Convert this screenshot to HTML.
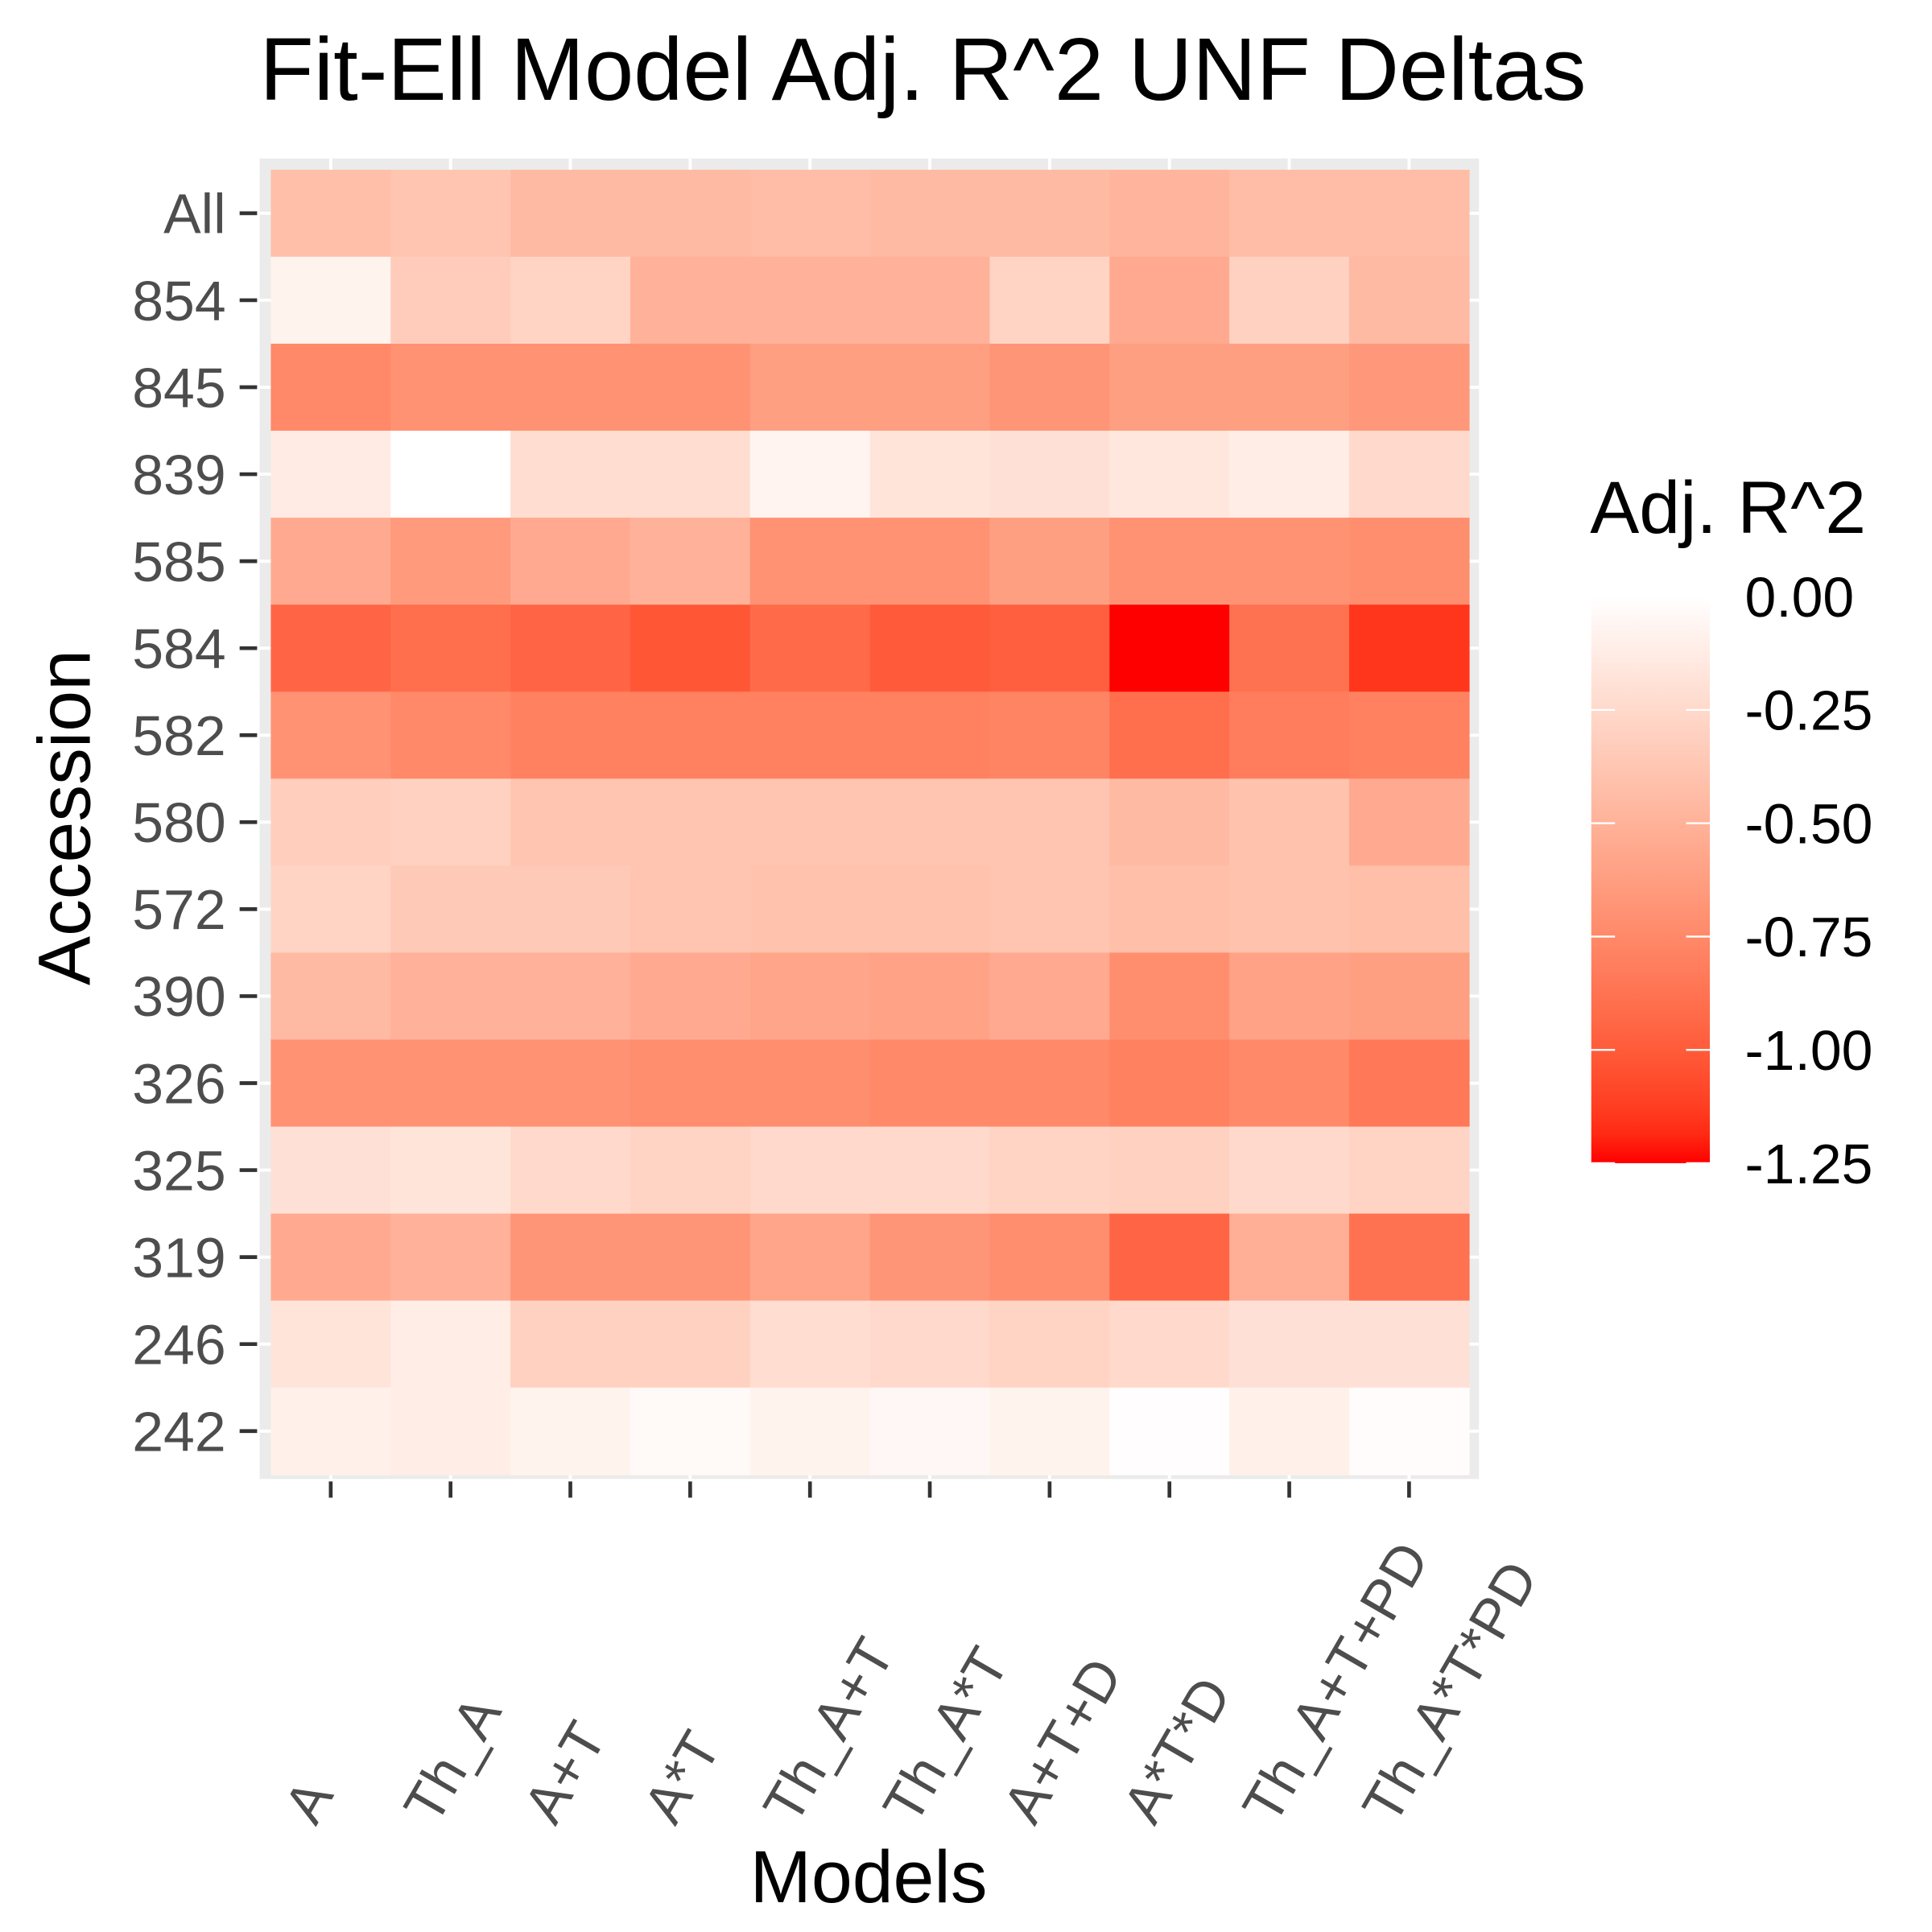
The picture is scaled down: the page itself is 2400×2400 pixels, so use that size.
<!DOCTYPE html>
<html><head><meta charset="utf-8"><style>
html,body{margin:0;padding:0;background:#fff}
svg{display:block}
text{font-family:"Liberation Sans",Arial,sans-serif}
</style></head><body>
<svg id="chart" width="2400" height="2400" viewBox="0 0 1548 1548" xmlns="http://www.w3.org/2000/svg">
<defs>
<linearGradient id="lg" x1="0" y1="0" x2="0" y2="1">
</linearGradient>
</defs>
<text x="208" y="80" font-size="71" fill="#000">Fit-Ell Model Adj. R^2 UNF Deltas</text>
<rect x="208" y="127" width="977" height="1058" fill="#EBEBEB"/>
<g id="grid"></g>
<g id="tiles"></g>
<g id="yaxis"></g>
<g id="xaxis"></g>
<text transform="translate(72,655) rotate(-90)" text-anchor="middle" font-size="59" fill="#000">Accession</text>
<text x="696" y="1524" text-anchor="middle" font-size="59" fill="#000">Models</text>
<g id="legend">
<text x="1274" y="427" font-size="59" fill="#000">Adj. R^2</text>
</g>
</svg>
<script>
const models = ["A","Th_A","A+T","A*T","Th_A+T","Th_A*T","A+T+D","A*T*D","Th_A+T+PD","Th_A*T*PD"];
const accessions = ["All","854","845","839","585","584","582","580","572","390","326","325","319","246","242"];
const rowAll = [-0.42,-0.38,-0.45,-0.45,-0.43,-0.45,-0.45,-0.48,-0.43,-0.43];
const row854 = [-0.08,-0.33,-0.28,-0.50,-0.50,-0.50,-0.28,-0.55,-0.30,-0.45];
const row845 = [-0.75,-0.70,-0.70,-0.70,-0.62,-0.62,-0.68,-0.62,-0.62,-0.66];
const row839 = [-0.13,0.00,-0.22,-0.22,-0.07,-0.18,-0.20,-0.16,-0.12,-0.25];
const row585 = [-0.55,-0.65,-0.55,-0.50,-0.70,-0.70,-0.62,-0.70,-0.70,-0.72];
const row584 = [-0.95,-0.90,-0.95,-1.02,-0.92,-1.00,-0.98,-1.25,-0.88,-1.15];
const row582 = [-0.70,-0.75,-0.80,-0.80,-0.80,-0.80,-0.78,-0.90,-0.82,-0.80];
const row580 = [-0.32,-0.30,-0.38,-0.38,-0.38,-0.38,-0.38,-0.45,-0.40,-0.55];
const row572 = [-0.28,-0.35,-0.35,-0.38,-0.40,-0.40,-0.38,-0.42,-0.40,-0.42];
const row390 = [-0.45,-0.50,-0.50,-0.55,-0.58,-0.60,-0.55,-0.72,-0.60,-0.62];
const row326 = [-0.70,-0.70,-0.70,-0.72,-0.72,-0.75,-0.75,-0.80,-0.75,-0.85];
const row325 = [-0.20,-0.18,-0.25,-0.28,-0.25,-0.25,-0.28,-0.30,-0.25,-0.28];
const row319 = [-0.55,-0.50,-0.68,-0.68,-0.58,-0.68,-0.72,-0.95,-0.52,-0.88];
const row246 = [-0.18,-0.12,-0.30,-0.30,-0.22,-0.25,-0.28,-0.25,-0.20,-0.20];
const row242 = [-0.10,-0.12,-0.08,-0.04,-0.08,-0.05,-0.08,-0.01,-0.10,-0.02];
const values = [rowAll,row854,row845,row839,row585,row584,row582,row580,row572,row390,row326,row325,row319,row246,row242];
const legendTicks = [0,-0.25,-0.5,-0.75,-1.0,-1.25];
const legendLabels = ["0.00","-0.25","-0.50","-0.75","-1.00","-1.25"];

const NS="http://www.w3.org/2000/svg";
const vmin=-1.25, vmax=-0.0;
const x0=217, cw=96, y0=136, rh=69.7;
const xs = i => x0 + cw*i + cw/2;
const ys = j => y0 + rh*j + rh/2;
function mk(tag, attrs, parent){const e=document.createElementNS(NS,tag);for(const k in attrs)e.setAttribute(k,attrs[k]);parent.appendChild(e);return e;}
function srgb2lin(c){c/=255;return c<=0.04045?c/12.92:Math.pow((c+0.055)/1.055,2.4);}
function lin2srgb(c){c=c<=0.0031308?12.92*c:1.055*Math.pow(c,1/2.4)-0.055;return Math.max(0,Math.min(255,Math.round(c*255)));}
function toLab(r,g,b){r=srgb2lin(r);g=srgb2lin(g);b=srgb2lin(b);
 let X=(0.4124*r+0.3576*g+0.1805*b)/0.95047,Y=(0.2126*r+0.7152*g+0.0722*b),Z=(0.0193*r+0.1192*g+0.9505*b)/1.08883;
 const f=t=>t>0.008856?Math.cbrt(t):7.787*t+16/116;
 return [116*f(Y)-16,500*(f(X)-f(Y)),200*(f(Y)-f(Z))];}
function fromLab(L,a,b){const fy=(L+16)/116,fx=fy+a/500,fz=fy-b/200;
 const fi=t=>t*t*t>0.008856?t*t*t:(t-16/116)/7.787;
 const X=fi(fx)*0.95047,Y=fi(fy),Z=fi(fz)*1.08883;
 const r=3.2406*X-1.5372*Y-0.4986*Z,g=-0.9689*X+1.8758*Y+0.0415*Z,bb=0.0557*X-0.2040*Y+1.0570*Z;
 return `rgb(${lin2srgb(r)},${lin2srgb(g)},${lin2srgb(bb)})`;}
const LW=toLab(255,255,255), LR=toLab(255,0,0);
function color(v){let t=(v-vmin)/(vmax-vmin);t=Math.max(0,Math.min(1,t));
 return fromLab(LR[0]+(LW[0]-LR[0])*t,LR[1]+(LW[1]-LR[1])*t,LR[2]+(LW[2]-LR[2])*t);}

const grid=document.getElementById('grid'), tiles=document.getElementById('tiles'), ya=document.getElementById('yaxis'), xa=document.getElementById('xaxis');
models.forEach((m,i)=>{
 const l=mk('line',{x1:xs(i),x2:xs(i),y1:127,y2:1185,stroke:'#fff','stroke-width':2.5},grid);
 
 
 const t=mk('line',{x1:xs(i),x2:xs(i),y1:1187,y2:1200,stroke:'#333','stroke-width':3},xa);
 
 
 const tx=mk('text',{transform:`translate(${xs(i)-12},1464) rotate(-60)`,'font-size':45,fill:'#4D4D4D'},xa);
 tx.textContent=m;
 
 
});
accessions.forEach((a,j)=>{
 const l=mk('line',{x1:208,x2:1185,y1:ys(j),y2:ys(j),stroke:'#fff','stroke-width':2.5},grid);
 
 
 const t=mk('line',{x1:192,x2:206,y1:ys(j),y2:ys(j),stroke:'#333','stroke-width':3},ya);
 
 
 const tx=mk('text',{x:181,y:ys(j)+16,'text-anchor':'end','font-size':45,fill:'#4D4D4D'},ya);
 tx.textContent=a;
 
 
 values[j].forEach((v,i)=>{
  const r=mk('rect',{x:x0+cw*i,y:y0+rh*j,width:cw+0.5,height:rh+0.5,fill:color(v)},tiles);
  
  
 });
});
const lg=document.getElementById('lg'), leg=document.getElementById('legend');
for(let k=0;k<=20;k++){const t=k/20;mk('stop',{offset:t,'stop-color':color(vmax+(vmin-vmax)*t)},lg);}
const barTop=478, barBot=932;
const ly = v => barTop + (v-vmax)/(vmin-vmax)*(barBot-barTop);
const bar=mk('rect',{x:1275,y:barTop,width:95,height:barBot-barTop,fill:'url(#lg)'},leg);


legendTicks.forEach((v,k)=>{
 const y=ly(v);
 mk('line',{x1:1275,x2:1294,y1:y,y2:y,stroke:'#fff','stroke-width':1.5},leg);
 mk('line',{x1:1351,x2:1370,y1:y,y2:y,stroke:'#fff','stroke-width':1.5},leg);
 const tx=mk('text',{x:1398,y:y+16,'font-size':45,fill:'#000'},leg);
 tx.textContent=legendLabels[k];
 
 
});
</script>
</body></html>
